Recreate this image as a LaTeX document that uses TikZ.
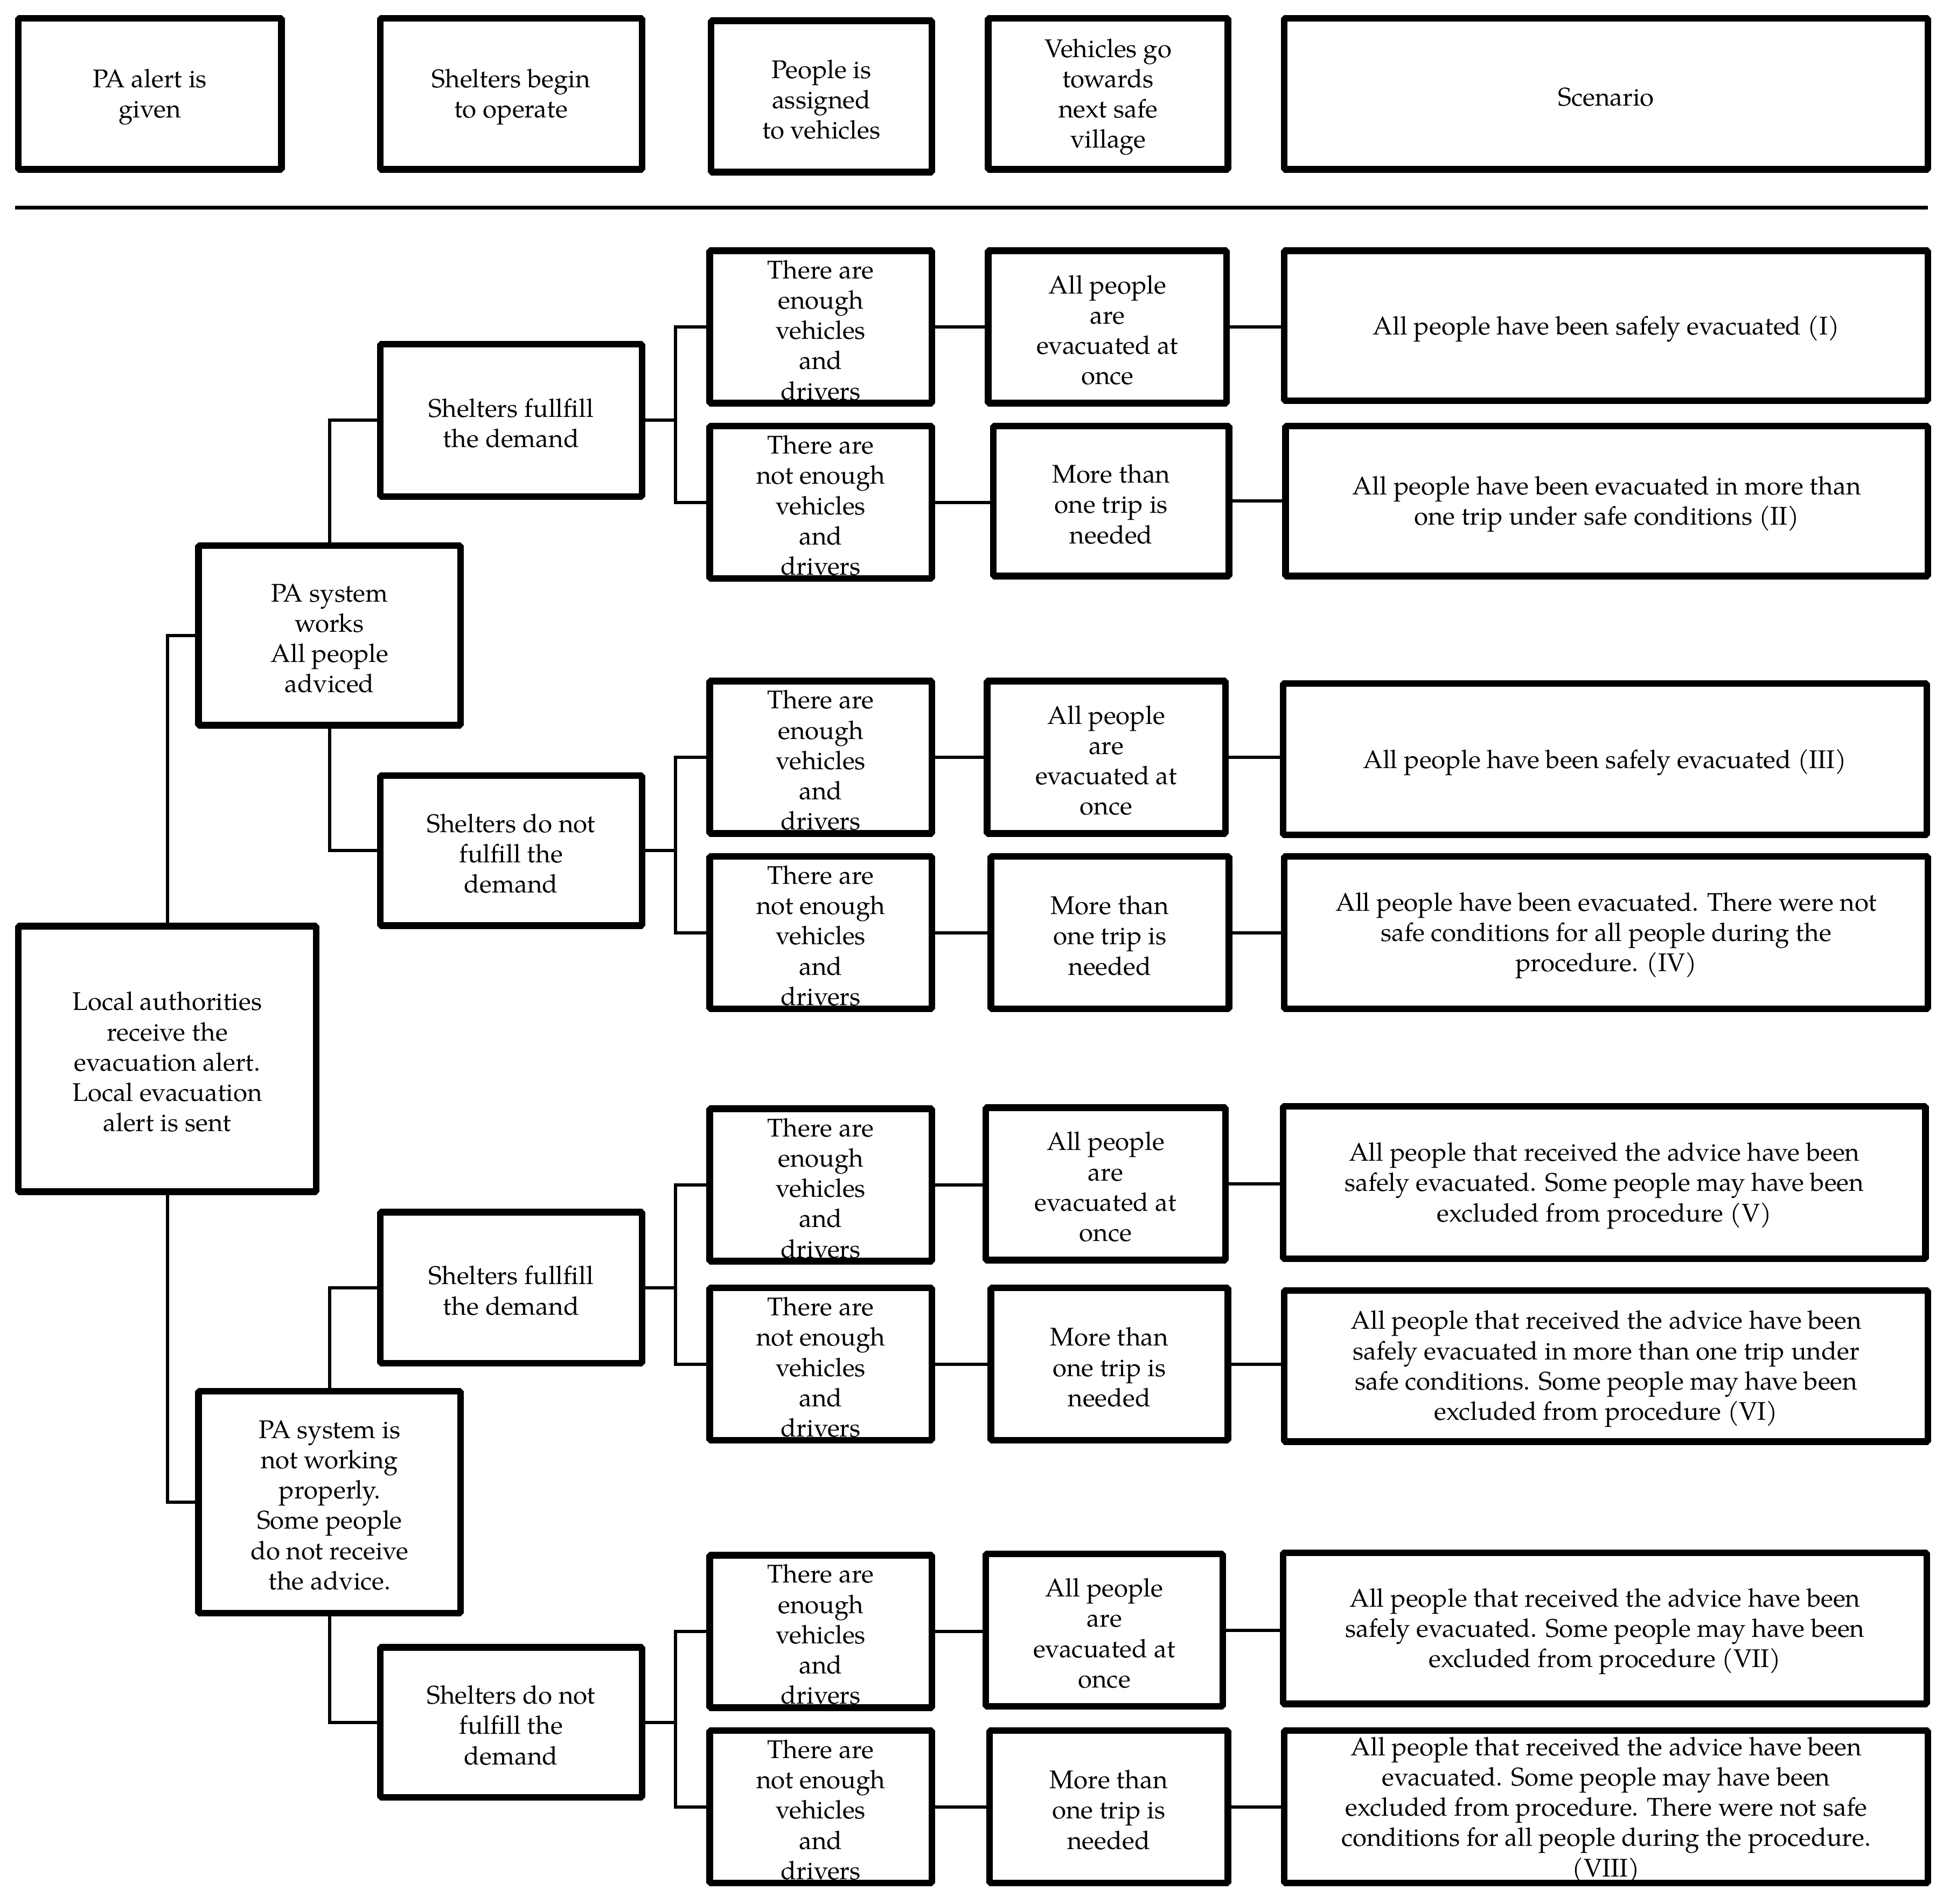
\documentclass[tikz,border=0pt]{standalone}
\usepackage{fontspec}
\setmainfont{TeX Gyre Pagella}
\usetikzlibrary{calc}
\newcommand\bx[6]{\node[bx, minimum width={(#4-#2-5.4)*0.023087cm}, minimum height={(#5-#3-5.4)*0.023087cm}, label={[txt]center:{#6}}] (#1) at ({(#2+#4)/2},{(#3+#5)/2}) {};}
\tikzset{
  bx/.style={draw, line width=0.125cm, line join=bevel, inner sep=0pt},
  txt/.style={inner sep=0pt, align=center, yshift=-1.6pt,
    font=\fontsize{13.5}{16}\selectfont},
  conn/.style={line width=0.06cm}
}
\begin{document}
\begin{tikzpicture}[x=0.023087cm, y=-0.023087cm]
\useasboundingbox (0,0) rectangle (1568,1531);
% header
\bx{h1}{12}{12}{229}{139}{PA alert is\\given}
\bx{h2}{303}{12}{519}{139}{Shelters begin\\to operate}
\bx{h3}{569}{14}{752}{141}{People is\\assigned\\to vehicles}
\bx{h4}{792}{12}{990}{139}{Vehicles go\\towards\\next safe\\village}
\bx{h5}{1030}{12}{1553}{139}{Scenario}
\coordinate (sepL) at (12,167);
\coordinate (sepR) at (1550,167);
\draw[line width=0.065cm] (sepL) -- (sepR);
% tree
\bx{root}{12}{742}{257}{961}{Local authorities\\receive the\\evacuation alert.\\Local evacuation\\alert is sent}
\bx{paw}{157}{436}{373}{586}{PA system\\works\\All people\\adviced}
\bx{pan}{157}{1116}{373}{1300}{PA system is\\not working\\properly.\\Some people\\do not receive\\the advice.}
\bx{s1}{303}{274}{519}{402}{Shelters fullfill\\the demand}
\bx{s2}{303}{621}{519}{747}{Shelters do not\\fulfill the\\demand}
\bx{s3}{303}{972}{519}{1099}{Shelters fullfill\\the demand}
\bx{s4}{303}{1322}{519}{1448}{Shelters do not\\fulfill the\\demand}
% vehicles
\bx{v1a}{568}{199}{752}{327}{There are\\enough\\vehicles\\and\\drivers}
\bx{v1b}{568}{340}{752}{468}{There are\\not enough\\vehicles\\and\\drivers}
\bx{v2a}{568}{545}{752}{673}{There are\\enough\\vehicles\\and\\drivers}
\bx{v2b}{568}{686}{752}{814}{There are\\not enough\\vehicles\\and\\drivers}
\bx{v3a}{568}{889}{752}{1017}{There are\\enough\\vehicles\\and\\drivers}
\bx{v3b}{568}{1033}{752}{1161}{There are\\not enough\\vehicles\\and\\drivers}
\bx{v4a}{568}{1248}{752}{1376}{There are\\enough\\vehicles\\and\\drivers}
\bx{v4b}{568}{1389}{752}{1517}{There are\\not enough\\vehicles\\and\\drivers}
% trips
\bx{a1a}{792}{199}{989}{327}{All people\\are\\evacuated at\\once}
\bx{a1b}{796}{340}{991}{466}{More than\\one trip is\\needed}
\bx{a2a}{791}{545}{988}{673}{All people\\are\\evacuated at\\once}
\bx{a2b}{794}{686}{991}{814}{More than\\one trip is\\needed}
\bx{a3a}{790}{888}{988}{1016}{All people\\are\\evacuated at\\once}
\bx{a3b}{794}{1033}{990}{1161}{More than\\one trip is\\needed}
\bx{a4a}{790}{1247}{986}{1375}{All people\\are\\evacuated at\\once}
\bx{a4b}{793}{1389}{990}{1517}{More than\\one trip is\\needed}
% scenarios
\bx{c1a}{1030}{199}{1553}{325}{All people have been safely evacuated (I)}
\bx{c1b}{1031}{340}{1553}{466}{All people have been evacuated in more than\\one trip under safe conditions (II)}
\bx{c2a}{1029}{547}{1552}{674}{All people have been safely evacuated (III)}
\bx{c2b}{1030}{686}{1553}{814}{All people have been evacuated. There were not\\safe conditions for all people during  the\\procedure. (IV)}
\bx{c3a}{1029}{887}{1551}{1015}{All people that received the advice have been\\safely evacuated. Some people may have been\\excluded from procedure (V)}
\bx{c3b}{1030}{1035}{1553}{1162}{All people that received the advice have been\\safely evacuated in more than one trip under\\safe conditions. Some people may have been\\excluded from procedure (VI)}
\bx{c4a}{1029}{1246}{1552}{1373}{All people that received the advice have been\\safely evacuated. Some people may have been\\excluded from procedure (VII)}
\bx{c4b}{1030}{1389}{1553}{1517}{All people that received the advice have been\\evacuated. Some people may have been\\excluded from procedure. There were not safe\\conditions for all people during  the procedure.\\(VIII)}
% tree connectors
\draw[conn] (root.north) |- (paw.west);
\draw[conn] (root.south) |- (pan.west);
\draw[conn] (paw.north) |- (s1.west);
\draw[conn] (paw.south) |- (s2.west);
\draw[conn] (pan.north) |- (s3.west);
\draw[conn] (pan.south) |- (s4.west);
\foreach \g in {1,2,3,4}{
  \draw[conn] (v\g a.west) -- ++(-25,0) coordinate (b\g) |- (v\g b.west);
  \draw[conn] (s\g.east) -- (s\g.east -| b\g);
  \draw[conn] (v\g a.east) -- (v\g a.east -| a\g a.west);
  \draw[conn] (v\g b.east) -- (v\g b.east -| a\g b.west);
  \draw[conn] (a\g a.east) -- (a\g a.east -| c\g a.west);
  \draw[conn] (a\g b.east) -- (a\g b.east -| c\g b.west);
}
\end{tikzpicture}
\end{document}
